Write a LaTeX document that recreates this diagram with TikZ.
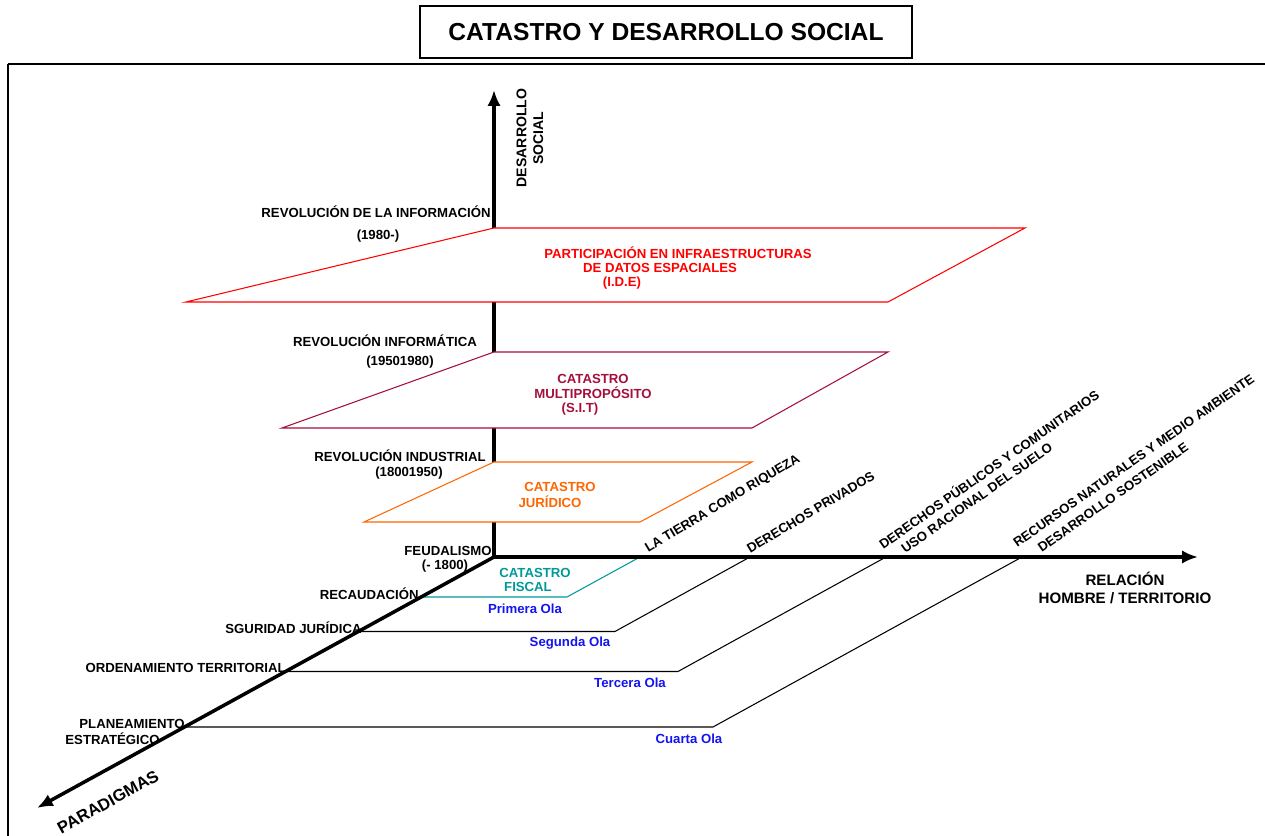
\documentclass[tikz,border=0pt]{standalone}
\usepackage{fontspec}
\setmainfont{Liberation Sans}
\usepackage{xcolor}
\usetikzlibrary{arrows.meta}
\definecolor{ideRed}{RGB}{255,0,0}
\definecolor{sitRed}{RGB}{165,15,60}
\definecolor{jurOrange}{RGB}{255,102,0}
\definecolor{fisTeal}{RGB}{0,153,153}
\definecolor{olaBlue}{RGB}{20,20,240}
\tikzset{axis/.style = {line width=2pt, -{Latex[length=9pt,width=7.5pt]}}}
\tikzset{plane/.style = {line width=0.6pt, fill=white}}
\tikzset{wave/.style = {line width=0.6pt}}
\tikzset{lbl/.style = {font=\fontsize{7.5}{8.5}\selectfont\bfseries, inner sep=0pt}}
\tikzset{rlbl/.style = {lbl, rotate=#1, anchor=base west}}

\begin{document}
\begin{tikzpicture}
		\useasboundingbox (0,0) rectangle (25.3,16.72);
		\draw [line width=1.2pt] (25.3,15.44) -- (0.16,15.44);
		\draw [line width=0.8pt] (0.16,15.44) -- (0.16,0);
		\node [draw, line width=0.8pt, minimum width=9.84cm, minimum height=1.04cm, font=\fontsize{14}{16}\selectfont\bfseries] (title) at (13.32,16.08) {CATASTRO Y DESARROLLO SOCIAL};
		\node (0) at (9.88, 5.58) {};
		\node (1) at (9.88, 14.92) {};
		\node (2) at (23.96, 5.58) {};
		\node (3) at (0.74, 0.56) {};
		\node (4) at (9.88, 12.16) {};
		\node (5) at (20.5, 12.16) {};
		\node (6) at (17.76, 10.68) {};
		\node (7) at (3.72, 10.68) {};
		\node (8) at (9.88, 9.68) {};
		\node (9) at (17.76, 9.68) {};
		\node (10) at (15.04, 8.16) {};
		\node (11) at (5.64, 8.16) {};
		\node (12) at (9.88, 7.48) {};
		\node (13) at (15.04, 7.48) {};
		\node (14) at (12.8, 6.28) {};
		\node (15) at (7.28, 6.28) {};
		\node (16) at (12.8, 5.58) {};
		\node (17) at (11.34, 4.78) {};
		\node (18) at (8.43, 4.78) {};
		\node (19) at (15.0, 5.58) {};
		\node (20) at (12.3, 4.09) {};
		\node (21) at (7.17, 4.09) {};
		\node (22) at (17.72, 5.58) {};
		\node (23) at (13.56, 3.29) {};
		\node (24) at (5.72, 3.29) {};
		\node (25) at (20.44, 5.58) {};
		\node (26) at (14.26, 2.18) {};
		\node (27) at (3.70, 2.18) {};
		\draw [axis] (0.center) to (1.center);
		\draw [plane, draw=ideRed] (4.center) -- (5.center) -- (6.center) -- (7.center) -- cycle;
		\draw [plane, draw=sitRed] (8.center) -- (9.center) -- (10.center) -- (11.center) -- cycle;
		\draw [plane, draw=jurOrange] (12.center) -- (13.center) -- (14.center) -- (15.center) -- cycle;
		\draw [wave, fisTeal] (16.center) -- (17.center) -- (18.center);
		\draw [wave] (19.center) -- (20.center) -- (21.center);
		\draw [wave] (22.center) -- (23.center) -- (24.center);
		\draw [wave] (25.center) -- (26.center) -- (27.center);
		\draw [axis] (0.center) to (2.center);
		\draw [axis] (0.center) to (3.center);
		\node [lbl, anchor=east] (rev4) at (9.82, 12.48) {REVOLUCIÓN DE LA INFORMACIÓN};
		\node [lbl] (rev4y) at (7.56, 12.0) {(1980-)};
		\node [lbl] (rev3) at (7.7, 9.9) {REVOLUCIÓN INFORMÁTICA};
		\node [lbl] (rev3y) at (8.0, 9.48) {(19501980)};
		\node [lbl] (rev2) at (8.0, 7.6) {REVOLUCIÓN INDUSTRIAL};
		\node [lbl] (rev2y) at (8.18, 7.26) {(18001950)};
		\node [lbl] (rev1) at (8.96, 5.7) {FEUDALISMO};
		\node [lbl] (rev1y) at (8.9, 5.4) {(- 1800)};
		\node [lbl, anchor=east] (par1) at (8.38, 4.84) {RECAUDACIÓN};
		\node [lbl, anchor=east] (par2) at (7.24, 4.16) {SGURIDAD JURÍDICA};
		\node [lbl, anchor=east] (par3) at (5.72, 3.36) {ORDENAMIENTO TERRITORIAL};
		\node [lbl, anchor=east] (par4a) at (3.7, 2.24) {PLANEAMIENTO};
		\node [lbl, anchor=east] (par4b) at (3.2, 1.94) {ESTRATÉGICO};
		\node [lbl, ideRed] (ide1) at (13.56, 11.66) {PARTICIPACIÓN EN INFRAESTRUCTURAS};
		\node [lbl, ideRed] (ide2) at (13.2, 11.36) {DE DATOS ESPACIALES};
		\node [lbl, ideRed] (ide3) at (12.44, 11.06) {(I.D.E)};
		\node [lbl, sitRed] (sit1) at (11.86, 9.14) {CATASTRO};
		\node [lbl, sitRed] (sit2) at (11.86, 8.86) {MULTIPROPÓSITO};
		\node [lbl, sitRed] (sit3) at (11.6, 8.54) {(S.I.T)};
		\node [lbl, jurOrange] (jur1) at (11.2, 6.98) {CATASTRO};
		\node [lbl, jurOrange] (jur2) at (11.0, 6.68) {JURÍDICO};
		\node [lbl, fisTeal] (fis1) at (10.7, 5.26) {CATASTRO};
		\node [lbl, fisTeal] (fis2) at (10.56, 4.98) {FISCAL};
		\node [lbl, olaBlue] (ola1) at (10.5, 4.54) {Primera Ola};
		\node [lbl, olaBlue] (ola2) at (11.4, 3.86) {Segunda Ola};
		\node [lbl, olaBlue] (ola3) at (12.6, 3.06) {Tercera Ola};
		\node [lbl, olaBlue] (ola4) at (13.78, 1.94) {Cuarta Ola};
		\node [lbl, font=\fontsize{8.6}{10}\selectfont\bfseries, align=center] (xlab) at (22.5, 4.96) {RELACIÓN\\HOMBRE / TERRITORIO};
		\node [lbl, font=\fontsize{8}{9.5}\selectfont\bfseries, align=center, rotate=90] (ylab) at (10.6, 13.96) {DESARROLLO\\SOCIAL};
		\node [lbl, font=\fontsize{9.5}{11}\selectfont\bfseries, rotate=29] (zlab) at (2.16, 0.68) {PARADIGMAS};
		\node [rlbl=31] (rel1) at (12.96, 5.66) {LA TIERRA COMO RIQUEZA};
		\node [rlbl=31] (rel2) at (15.0, 5.64) {DERECHOS PRIVADOS};
		\node [rlbl=35] (rel3a) at (17.66, 5.72) {DERECHOS PÚBLICOS Y COMUNITARIOS};
		\node [rlbl=35] (rel3b) at (18.1, 5.64) {USO RACIONAL DEL SUELO};
		\node [rlbl=35] (rel4a) at (20.34, 5.76) {RECURSOS NATURALES Y MEDIO AMBIENTE};
		\node [rlbl=35] (rel4b) at (20.83, 5.66) {DESARROLLO SOSTENIBLE};
	\end{tikzpicture}
\end{document}
